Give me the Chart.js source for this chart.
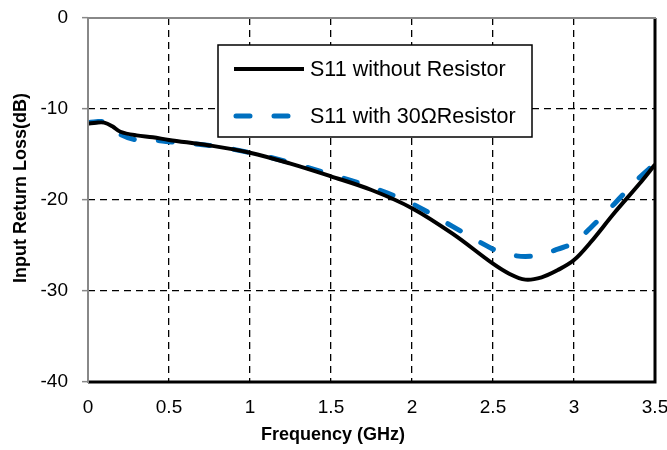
<!DOCTYPE html>
<html lang="en">
<head>
    <meta charset="UTF-8">
    <title>Input Return Loss</title>
    <style>
        body { margin: 0; background: #fff; }
        #chart { display: block; }
    </style>
</head>
<body>
    <canvas id="chart" width="667" height="450"></canvas>

    <script src="https://cdn.jsdelivr.net/npm/chart.js"></script>
    <script>
        // values
        const freq = [0, 0.05, 0.1, 0.15, 0.2, 0.3, 0.4, 0.5, 0.75, 1.0, 1.25, 1.5, 1.75, 2.0, 2.25, 2.5, 2.6, 2.7, 2.8, 2.9, 3.0, 3.1, 3.25, 3.4, 3.5];
        const s11NoRes = [-11.6, -11.5, -11.5, -11.9, -12.5, -12.9, -13.1, -13.4, -14.0, -14.8, -16.0, -17.4, -18.9, -20.9, -23.7, -27.0, -28.1, -28.75, -28.5, -27.7, -26.6, -24.7, -21.4, -18.3, -16.1];
        const s11Res30 = [-11.5, -11.4, -11.4, -11.9, -12.8, -13.4, -13.4, -13.6, -14.0, -14.8, -15.9, -17.2, -18.6, -20.4, -22.9, -25.4, -26.0, -26.2, -26.0, -25.4, -24.7, -23.1, -20.4, -17.6, -16.0];
        const seriesNames = ['S11 without Resistor', 'S11 with 30\u03A9Resistor'];
        const xTitle = 'Frequency (GHz)';
        const yTitle = 'Input Return Loss(dB)';

        const FONT = '"Liberation Sans", Arial, sans-serif';

        function pts(ys) {
            return freq.map((f, i) => ({ x: f, y: ys[i] }));
        }

        // plot frame, axis titles and the boxed legend
        const decor = {
            id: 'decor',
            afterDatasetsDraw(chart) {
                const { ctx, chartArea: a } = chart;
                ctx.save();
                ctx.lineCap = 'butt';
                ctx.strokeStyle = '#000';
                ctx.lineWidth = 3;
                ctx.beginPath();
                ctx.moveTo(a.left, a.bottom);
                ctx.lineTo(a.right, a.bottom);
                ctx.lineTo(a.right, a.top);
                ctx.stroke();
                ctx.strokeStyle = '#888';
                ctx.lineWidth = 2;
                ctx.beginPath();
                ctx.moveTo(a.right + 1, a.top);
                ctx.lineTo(a.left, a.top);
                ctx.lineTo(a.left, a.bottom + 1);
                ctx.stroke();
                ctx.restore();
            },
            afterDraw(chart) {
                const ctx = chart.ctx;
                ctx.save();
                ctx.fillStyle = '#000';
                ctx.font = 'bold 18px ' + FONT;
                ctx.textAlign = 'center';
                ctx.textBaseline = 'middle';
                ctx.fillText(xTitle, 333, 435);
                ctx.translate(21, 188);
                ctx.rotate(-Math.PI / 2);
                ctx.fillText(yTitle, 0, 0);
                ctx.restore();

                // legend box
                ctx.save();
                ctx.fillStyle = '#fff';
                ctx.fillRect(218, 45, 314, 92);
                ctx.strokeStyle = '#000';
                ctx.lineWidth = 1.5;
                ctx.strokeRect(218, 45, 314, 92);
                const rows = [69, 116];
                chart.data.datasets.forEach((ds, i) => {
                    ctx.beginPath();
                    ctx.strokeStyle = ds.borderColor;
                    ctx.lineWidth = ds.borderWidth;
                    ctx.lineCap = ds.borderCapStyle || 'butt';
                    ctx.setLineDash(ds.borderDash || []);
                    ctx.moveTo(i === 0 ? 234 : 236, rows[i]);
                    ctx.lineTo(304, rows[i]);
                    ctx.stroke();
                    ctx.setLineDash([]);
                    ctx.fillStyle = '#000';
                    ctx.font = '21.5px ' + FONT;
                    ctx.textAlign = 'left';
                    ctx.textBaseline = 'middle';
                    ctx.fillText(ds.label, 310, rows[i] + 1);
                });
                ctx.restore();
            }
        };

        new Chart(document.getElementById('chart'), {
            type: 'line',
            data: {
                datasets: [{
                    label: seriesNames[0],
                    data: pts(s11NoRes),
                    borderColor: '#000000',
                    borderWidth: 4,
                    pointRadius: 0,
                    tension: 0.35,
                    borderCapStyle: 'butt'
                }, {
                    label: seriesNames[1],
                    data: pts(s11Res30),
                    borderColor: '#0070C0',
                    borderWidth: 5,
                    borderDash: [14, 24],
                    borderCapStyle: 'round',
                    pointRadius: 0,
                    tension: 0.35
                }]
            },
            options: {
                responsive: false,
                animation: false,
                devicePixelRatio: 1,
                layout: { padding: { top: 18, right: 12, left: 0, bottom: 0 } },
                plugins: {
                    legend: { display: false },
                    tooltip: { enabled: false }
                },
                scales: {
                    x: {
                        type: 'linear',
                        min: 0,
                        max: 3.5,
                        ticks: {
                            stepSize: 0.5,
                            color: '#000',
                            font: { family: FONT, size: 19 },
                            padding: 14,
                            maxRotation: 0,
                            autoSkip: false,
                            callback: v => String(Math.round(v * 10) / 10)
                        },
                        grid: {
                            color: c => (c.tick && (c.tick.value === 0 || c.tick.value === 3.5)) ? 'rgba(0,0,0,0)' : '#000',
                            lineWidth: 1.3,
                            drawTicks: false
                        },
                        border: { display: false, dash: [7, 5] },
                        afterFit: s => { s.height = 68; s.paddingLeft = 0; s.paddingRight = 0; }
                    },
                    y: {
                        min: -40,
                        max: 0,
                        ticks: {
                            stepSize: 10,
                            color: '#000',
                            font: { family: FONT, size: 19 },
                            padding: 14
                        },
                        grid: {
                            color: c => (c.tick && (c.tick.value === 0 || c.tick.value === -40)) ? 'rgba(0,0,0,0)' : '#000',
                            lineWidth: 1.3,
                            drawTicks: true,
                            tickLength: 6,
                            tickColor: '#888',
                            tickWidth: 1.5,
                            tickBorderDash: []
                        },
                        border: { display: false, dash: [7, 5] },
                        afterFit: s => { s.width = 88; s.paddingTop = 0; s.paddingBottom = 0; }
                    }
                }
            },
            plugins: [decor]
        });
    </script>
</body>
</html>
